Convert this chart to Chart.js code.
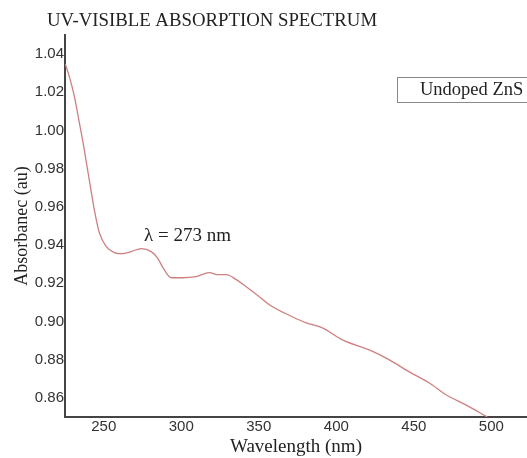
<!DOCTYPE html>
<html>
<head>
<meta charset="utf-8">
<script src="https://cdn.jsdelivr.net/npm/chart.js@4.4.1/dist/chart.umd.min.js"></script>
<style>
  html, body { margin: 0; padding: 0; background: #fff; }
  #wrap { width: 527px; height: 458px; }
</style>
</head>
<body>
<div id="wrap"><canvas id="uvChart" width="527" height="458"></canvas></div>
<script>
// wavelength (nm) and absorbance
const wavelength = [225.2, 227.7, 231, 234.2, 237.4, 240.6, 243.9, 247.1, 251.6, 256.8, 261.9, 267.7, 274.2, 280.6, 284.5, 289, 293.5, 300.6, 309.7, 318.1, 323.2, 329, 335.5, 341.9, 350.3, 356.8, 371.6, 380.6, 391, 403.9, 421.3, 434.2, 447.1, 460, 471, 483.9, 497.4];
const absorbance = [1.0348, 1.0285, 1.018, 1.0043, 0.9901, 0.9744, 0.9586, 0.9466, 0.9392, 0.9361, 0.9355, 0.9366, 0.9382, 0.9366, 0.9334, 0.9271, 0.9229, 0.9229, 0.9235, 0.9256, 0.9245, 0.9245, 0.9219, 0.9182, 0.913, 0.9088, 0.9025, 0.8993, 0.8967, 0.8904, 0.8851, 0.8799, 0.8736, 0.8678, 0.8615, 0.8562, 0.850];
const xTicks = [250, 300, 350, 400, 450, 500];
const yTicks = [0.86, 0.88, 0.90, 0.92, 0.94, 0.96, 0.98, 1.00, 1.02, 1.04];

const chartTitle = 'UV-VISIBLE ABSORPTION SPECTRUM';
const seriesName = 'Undoped ZnS';
const peakNote = { text: 'λ = 273 nm', x: 276, y: 0.9445 };

const serif = '"Liberation Serif", "Times New Roman", serif';
const sans = '"Liberation Sans", Arial, sans-serif';

const extras = {
  id: 'extras',
  afterDraw(chart) {
    const ctx = chart.ctx;
    const xs = chart.scales.x, ys = chart.scales.y;
    ctx.save();
    // title
    ctx.fillStyle = '#222';
    ctx.font = '18.8px ' + serif;
    ctx.textAlign = 'left';
    ctx.textBaseline = 'middle';
    ctx.fillText(chartTitle, 47, 21);
    // peak label
    ctx.font = '19px ' + serif;
    ctx.fillText(peakNote.text, xs.getPixelForValue(peakNote.x), ys.getPixelForValue(peakNote.y));
    // legend box
    ctx.strokeStyle = '#888';
    ctx.lineWidth = 1;
    ctx.strokeRect(397.5, 77.5, 140, 25);
    ctx.font = '18.5px ' + serif;
    ctx.fillText(seriesName, 420, 90);
    ctx.restore();
  }
};

const ctx = document.getElementById('uvChart').getContext('2d');
new Chart(ctx, {
  type: 'line',
  data: {
    datasets: [{
      label: seriesName,
      data: wavelength.map((w, i) => ({ x: w, y: absorbance[i] })),
      borderColor: '#cf7f7f',
      borderWidth: 1.3,
      pointRadius: 0,
      cubicInterpolationMode: 'monotone',
      fill: false
    }]
  },
  options: {
    responsive: false,
    animation: false,
    layout: { padding: { top: 35, right: 0, left: 0, bottom: 0 } },
    plugins: {
      legend: { display: false },
      title: { display: false },
      tooltip: { enabled: false }
    },
    scales: {
      x: {
        type: 'linear',
        min: 225,
        max: 523,
        afterBuildTicks: s => { s.ticks = xTicks.map(v => ({ value: v })); },
        afterFit: s => { s.height = 41; },
        grid: { display: false, drawTicks: false },
        border: { display: true, color: '#444', width: 2 },
        ticks: { color: '#333', font: { family: sans, size: 15 }, padding: 1, maxRotation: 0 },
        title: { display: true, text: 'Wavelength (nm)', color: '#222', font: { family: serif, size: 19 }, padding: { top: 0, bottom: 0 } }
      },
      y: {
        min: 0.85,
        max: 1.05,
        afterBuildTicks: s => { s.ticks = yTicks.map(v => ({ value: v })); },
        afterFit: s => { s.width = 65; },
        grid: { display: false, drawTicks: false },
        border: { display: true, color: '#444', width: 2 },
        ticks: { color: '#333', font: { family: sans, size: 15 }, padding: 1, callback: v => v.toFixed(2) },
        title: { display: true, text: 'Absorbanec (au)', color: '#222', font: { family: serif, size: 18 }, padding: { top: 11, bottom: 0 } }
      }
    }
  },
  plugins: [extras]
});
</script>
</body>
</html>
